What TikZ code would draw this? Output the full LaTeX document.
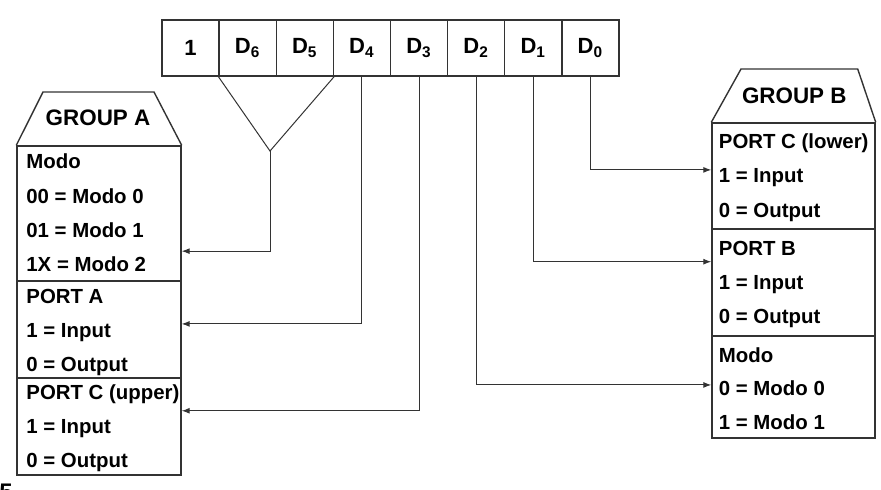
\documentclass[tikz,border=0pt]{standalone}
\usepackage{fontspec}
\setmainfont{Liberation Sans}
\usetikzlibrary{arrows.meta}
\usetikzlibrary{calc}

\begin{document}
\begin{tikzpicture}[x=0.5pt,y=-0.5pt,
        txt/.style={anchor=base west,inner sep=0pt,font=\bfseries\fontsize{10.2}{12}\selectfont},
        title/.style={anchor=base,inner sep=0pt,font=\bfseries\fontsize{11.2}{13}\selectfont}]
    \useasboundingbox (0,0) rectangle (881,489);

    \begin{scope} [every node/.style={draw=black!80,line width=0.7pt,minimum width=28.56pt,minimum height=28pt,inner sep=0pt,font=\bfseries\fontsize{11}{13}\selectfont}]
        \foreach \i/\txt [count=\k from 0] in {7/1,6/D\textsubscript{6},5/D\textsubscript{5},4/D\textsubscript{4},3/D\textsubscript{3},2/D\textsubscript{2},1/D\textsubscript{1},0/D\textsubscript{0}}{
            \node (b\i) at ({190.56+57.125*\k},48) {\txt};
        }
    \end{scope}

    \begin{scope} [every node/.style={draw=black!80,line width=0.7pt,minimum width=82pt,inner sep=0pt}]
        \node[minimum height=67.5pt] (modeA) at (99,213.5) {};
        \node[minimum height=48.5pt] (portA) at (99,329.5) {};
        \node[minimum height=48.5pt] (portCu) at (99,426.5) {};
        \node[minimum width=81.5pt,minimum height=53pt] (portCl) at (793.5,176) {};
        \node[minimum width=81.5pt,minimum height=53.5pt] (portB) at (793.5,282.5) {};
        \node[minimum width=81.5pt,minimum height=51pt] (modeB) at (793.5,387) {};
    \end{scope}

    % group headers
    \draw[black!80,line width=0.7pt] (modeA.north west) -- (43,92) -- (154,92) -- (modeA.north east);
    \draw[black!80,line width=0.7pt] (portCl.north west) -- (741,69) -- (857.7,69) -- (portCl.north east);
    \node[title] (grpA) at (98,125.3) {GROUP A};
    \node[title] (grpB) at (794.3,103) {GROUP B};

    \foreach \t [count=\k from 0] in {Modo,00 = Modo 0,01 = Modo 1,1X = Modo 2}
        \node[txt] (modeA\k) at (26,{168.7+34.4*\k}) {\t};
    \foreach \t [count=\k from 0] in {PORT A,1 = Input,0 = Output}
        \node[txt] (portA\k) at (26,{303+34*\k}) {\t};
    \foreach \t [count=\k from 0] in {PORT C (upper),1 = Input,0 = Output}
        \node[txt] (portCu\k) at (26,{399.7+33.7*\k}) {\t};
    \foreach \t [count=\k from 0] in {PORT C (lower),1 = Input,0 = Output}
        \node[txt] (portCl\k) at (718.5,{148.7+34.2*\k}) {\t};
    \foreach \t [count=\k from 0] in {PORT B,1 = Input,0 = Output}
        \node[txt] (portB\k) at (718.5,{255+34*\k}) {\t};
    \foreach \t [count=\k from 0] in {Modo,0 = Modo 0,1 = Modo 1}
        \node[txt] (modeB\k) at (718.5,{362+33.5*\k}) {\t};

    \node[anchor=base west,inner sep=0pt,font=\bfseries\fontsize{12}{14}\selectfont] (pg) at (-1,500) {5};

    \begin{scope}[>={Latex[length=4pt,width=3pt]},
            every path/.style={draw=black!80,line width=0.5pt}]
        \coordinate (vee) at (270,151);
        \draw (b6.south west) -- (vee) -- (b5.south east);
        \draw[->] (vee) |- ($(modeA.north east)!0.776!(modeA.south east)$);
        \draw[->] (b4.south) |- ($(portA.north east)!0.443!(portA.south east)$);
        \draw[->] (b3.south) |- ($(portCu.north east)!0.34!(portCu.south east)$);
        \draw[->] (b2.south) |- ($(modeB.north west)!0.48!(modeB.south west)$);
        \draw[->] (b1.south) |- ($(portB.north west)!0.308!(portB.south west)$);
        \draw[->] (b0.south) |- ($(portCl.north west)!0.443!(portCl.south west)$);
    \end{scope}
\end{tikzpicture}
\end{document}
